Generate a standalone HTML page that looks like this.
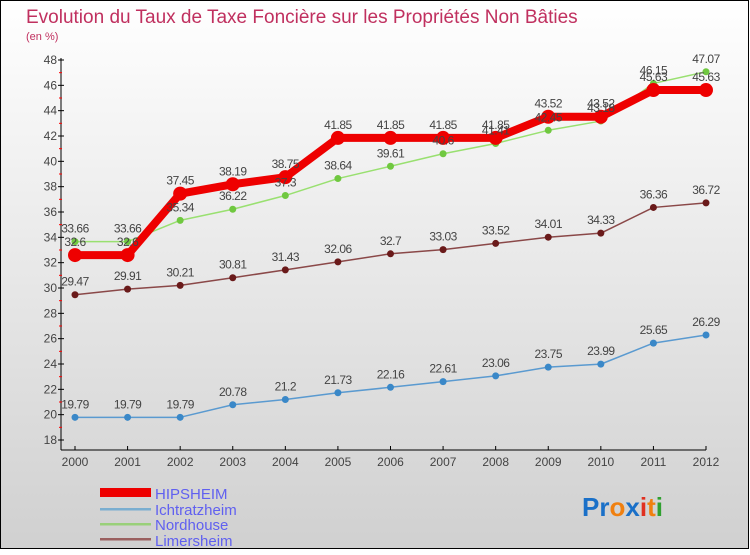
<!DOCTYPE html>
<html><head><meta charset="utf-8"><style>
body{margin:0;width:750px;height:550px;overflow:hidden;font-family:"Liberation Sans",sans-serif}
svg text{font-family:"Liberation Sans",sans-serif}
</style></head><body>
<svg id="c" width="750" height="550" xmlns="http://www.w3.org/2000/svg">
<defs><linearGradient id="bg" x1="0" y1="0" x2="0" y2="1"><stop offset="0" stop-color="#ffffff"/><stop offset="1" stop-color="#d0d0d0"/></linearGradient></defs>
<rect x="0.5" y="0.5" width="748" height="548" fill="url(#bg)" stroke="#000"/>
<text x="26" y="23" font-size="19" fill="#c0305f">Evolution du Taux de Taxe Foncière sur les Propriétés Non Bâties</text>
<text x="26" y="40" font-size="11" fill="#c0305f">(en %)</text>
<g id="axes"></g><g id="series"></g><g id="labels"></g>
<g>
<rect x="100" y="488" width="51" height="9" fill="#e00"/>
<text x="155" y="499" font-size="15" fill="#6060f0">HIPSHEIM</text>
<rect x="100" y="508" width="51" height="2.5" fill="#7aaed0"/>
<text x="155" y="515" font-size="15" fill="#6060f0">Ichtratzheim</text>
<rect x="100" y="523" width="51" height="2.5" fill="#99d07a"/>
<text x="155" y="530" font-size="15" fill="#6060f0">Nordhouse</text>
<rect x="100" y="538" width="51" height="2.5" fill="#9a6060"/>
<text x="155" y="546" font-size="15" fill="#6060f0">Limersheim</text>
</g>
<g font-size="26" font-weight="bold">
<text x="582" y="516"><tspan fill="#1a70c8">Pr</tspan><tspan fill="#f08010">o</tspan><tspan fill="#1a70c8">x</tspan><tspan fill="#e03020">i</tspan><tspan fill="#f08010">t</tspan><tspan fill="#30a030">i</tspan></text>
</g>
</svg>
<script>
const years=[2000,2001,2002,2003,2004,2005,2006,2007,2008,2009,2010,2011,2012];
const hipsheim=[32.6,32.6,37.45,38.19,38.75,41.85,41.85,41.85,41.85,43.52,43.52,45.63,45.63];
const ichtratzheim=[19.79,19.79,19.79,20.78,21.2,21.73,22.16,22.61,23.06,23.75,23.99,25.65,26.29];
const nordhouse=[33.66,33.66,35.34,36.22,37.3,38.64,39.61,40.6,41.41,42.45,43.18,46.15,47.07];
const limersheim=[29.47,29.91,30.21,30.81,31.43,32.06,32.7,33.03,33.52,34.01,34.33,36.36,36.72];
const yTicks=[18,20,22,24,26,28,30,32,34,36,38,40,42,44,46,48];
const NS="http://www.w3.org/2000/svg";
const x=i=>75+i*(706-75)/(years.length-1);
const y=v=>440-(v-18)*(380/30);
function mk(p,t,a){const e=document.createElementNS(NS,t);for(const k in a)e.setAttribute(k,a[k]);p.appendChild(e);return e;}
const ax=document.getElementById('axes');
let l=mk(ax,'line',{x1:61,y1:58,x2:61,y2:450,stroke:'#000'});


l=mk(ax,'line',{x1:61,y1:450,x2:706,y2:450,stroke:'#000'});


yTicks.forEach(v=>{
 mk(ax,'line',{x1:58,y1:y(v),x2:64,y2:y(v),stroke:'#000'});
 if(v<48)mk(ax,'line',{x1:59,y1:y(v+1),x2:62,y2:y(v+1),stroke:'#f00'});
 const t=mk(ax,'text',{x:57,y:y(v)+4,'font-size':12,fill:'#444','text-anchor':'end'});t.textContent=v;
 
 
});
years.forEach((yr,i)=>{
 mk(ax,'line',{x1:x(i),y1:446,x2:x(i),y2:450,stroke:'#000'});
 const t=mk(ax,'text',{x:x(i),y:466,'font-size':12,fill:'#444','text-anchor':'middle'});t.textContent=yr;
 
 
});
const sg=document.getElementById('series'),lg=document.getElementById('labels');
function series(vals,name,col,dot,w,r){
 const g=mk(sg,'g',{});
 
 
 mk(g,'polyline',{points:vals.map((v,i)=>x(i)+','+y(v)).join(' '),fill:'none',stroke:col,'stroke-width':w,'stroke-linejoin':'round'});
 vals.forEach((v,i)=>{
  const c=mk(g,'circle',{cx:x(i),cy:y(v),r:r,fill:dot});
  
  
  const t=mk(lg,'text',{x:x(i),y:y(v)-9,'font-size':12,fill:'#444','text-anchor':'middle','letter-spacing':'-0.5'});
  t.textContent=String(v);
  
  
 });
}
series(ichtratzheim,'ichtratzheim','#5a9ad0','#3a88c8',1.5,3.5);
series(limersheim,'limersheim','#8a4848','#6a1a1a',1.5,3.5);
series(nordhouse,'nordhouse','#99e070','#70c840',1.5,3.5);
series(hipsheim,'hipsheim','#ee0000','#ee0000',8,7);
</script>
</body></html>
